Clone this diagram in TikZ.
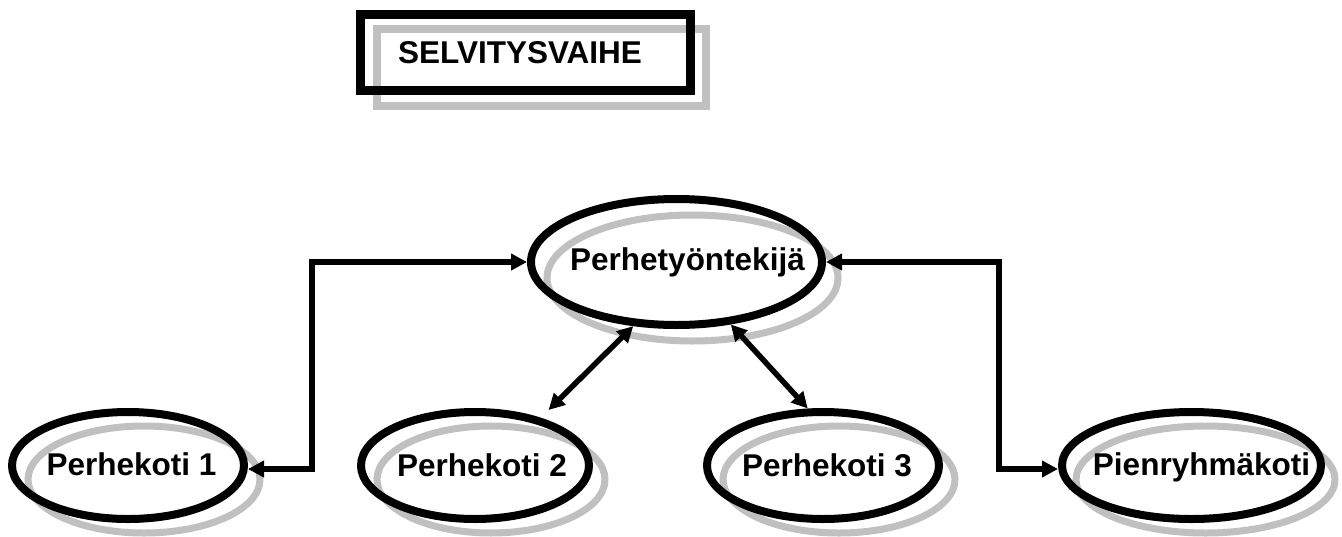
\documentclass[tikz,border=0pt]{standalone}
\usepackage{fontspec}
\setmainfont{Liberation Sans}
\usetikzlibrary{shapes.geometric,arrows.meta}
\definecolor{shadowgray}{HTML}{C0C0C0}
\newcommand\lblfont{\fontsize{31.5}{36}\selectfont\bfseries}
\tikzset{
  ell/.style={ellipse, draw=black, line width=8pt, inner sep=0pt},
  shad/.style={ellipse, draw=shadowgray, line width=7pt, inner sep=0pt},
  lbl/.style={anchor=base, inner sep=0pt, font=\lblfont},
  conn/.style={line width=5.5pt, line join=miter,
    {Triangle[length=16pt,width=16pt]}-{Triangle[length=16pt,width=16pt]}},
}
\begin{document}
\begin{tikzpicture}[x=1pt,y=-1pt]
\useasboundingbox (0,0) rectangle (1342,536);
% title box
\node[draw=shadowgray, line width=8pt, minimum width=329pt, minimum height=77pt, inner sep=0pt] (titleshadow) at (541.5,67.5) {};
\node[draw=black, line width=9pt, minimum width=330pt, minimum height=76pt, inner sep=0pt] (titlebox) at (525,52) {};
\node[lbl] (title) at (520,63) {SELVITYSVAIHE};
% shadows
\node[shad, minimum width=291pt, minimum height=126pt] (workersh) at (692.5,278) {};
\node[shad, minimum width=232pt, minimum height=107pt] (p1sh) at (144,479.5) {};
\node[shad, minimum width=228pt, minimum height=107pt] (p2sh) at (491,479.5) {};
\node[shad, minimum width=232pt, minimum height=107pt] (p3sh) at (839,479.5) {};
\node[shad, minimum width=259pt, minimum height=107pt] (piensh) at (1205.5,479.5) {};
% ellipses
\node[ell, minimum width=291pt, minimum height=126pt] (worker) at (676.5,262) {};
\node[ell, minimum width=232pt, minimum height=107pt] (p1) at (128,465.5) {};
\node[ell, minimum width=228pt, minimum height=107pt] (p2) at (475,465.5) {};
\node[ell, minimum width=232pt, minimum height=107pt] (p3) at (823,465.5) {};
\node[ell, minimum width=259pt, minimum height=107pt] (pien) at (1191.5,465.5) {};
% labels
\node[lbl] (workerlbl) at (687.5,270) {Perhetyöntekijä};
\node[lbl] (p1lbl) at (131.5,475) {Perhekoti 1};
\node[lbl] (p2lbl) at (482,476) {Perhekoti 2};
\node[lbl] (p3lbl) at (827,476) {Perhekoti 3};
\node[lbl] (pienlbl) at (1201.5,475) {Pienryhmäkoti};
% connectors
\coordinate (lt) at (312,262);
\coordinate (lb) at (312,469);
\coordinate (rb) at (999,469);
\draw[conn] (worker.west) -- (lt) -- (lb) -- (p1.east |- lb);
\draw[conn] (worker.east) -| (rb) -- (pien.west |- rb);
\draw[conn, shorten >=11pt] (worker.236) -- (p2.36);
\draw[conn] (worker.311.6) -- (p3.105.5);
\end{tikzpicture}
\end{document}
